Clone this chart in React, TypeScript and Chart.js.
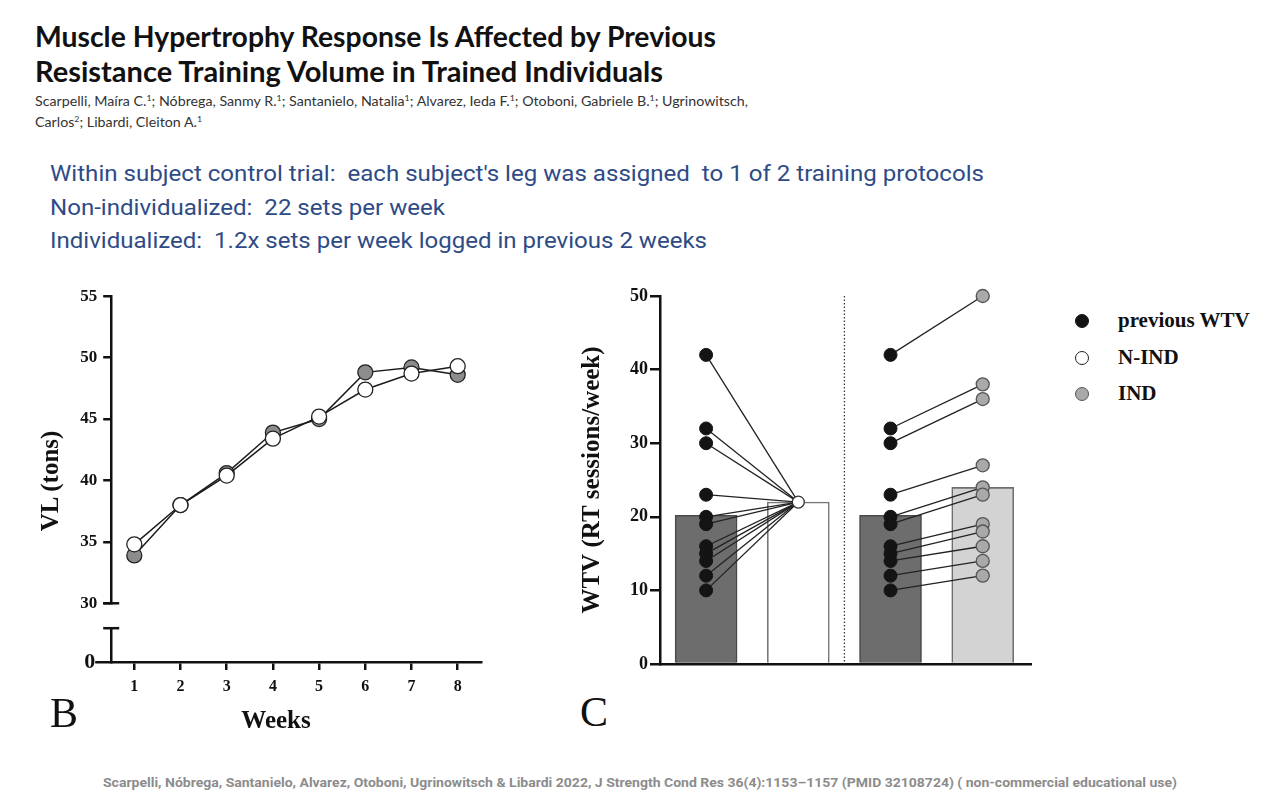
import React, { useEffect, useLayoutEffect, useRef } from 'react';
import { Chart, registerables } from 'chart.js';

Chart.register(...registerables);

const INK = '#111111';
const SERIF = '"Liberation Serif", "DejaVu Serif", serif';
const LATO = 'Lato, "Noto Sans", sans-serif';
const ROBOTO = 'Roboto, "Noto Sans", sans-serif';

// Panel B: weekly volume load (tons) for each protocol
const weeks = ['1', '2', '3', '4', '5', '6', '7', '8'];
const vlIndividualized = [33.9, 38.0, 40.6, 43.9, 45.0, 48.8, 49.2, 48.6];
const vlNonIndividualized = [34.8, 38.0, 40.4, 43.4, 45.2, 47.4, 48.7, 49.3];
const vlAxisMin = 30;
const vlAxisMax = 55;
const vlAxisStep = 5;

// Panel C: weekly training volume (sets/week)
const barPositions = [1, 2, 3, 4];
const barMeans = [20.2, 22, 20.2, 24];
const previousWTV = [42, 32, 30, 23, 20, 19, 16, 15, 14, 12, 10];
const nIndWTV = 22;
const indWTV = [50, 38, 36, 27, 24, 23, 19, 18, 16, 14, 12];
const wtvAxisMax = 50;
const wtvAxisStep = 10;

const legendItems = [
  { label: 'previous WTV', fill: '#141414', stroke: '#141414' },
  { label: 'N-IND', fill: '#ffffff', stroke: '#222222' },
  { label: 'IND', fill: '#a9a9a9', stroke: '#555555' },
];

const METRICS: Record<string, [number, number]> = {
  lato: [0.987, 0.213],
  roboto: [0.928, 0.244],
  serif: [0.891, 0.216],
};

type TextProps = {
  x: number;
  baseline: number;
  size: number;
  face: 'lato' | 'roboto' | 'serif';
  width?: number;
  lineHeight?: number;
  color?: string;
  weight?: number | string;
  children: React.ReactNode;
};

// Absolutely placed text block, positioned by the baseline of its first
// line and optionally squeezed horizontally to a given width.
function TextLine({ x, baseline, size, face, width, lineHeight, color = INK, weight = 400, children }: TextProps) {
  const ref = useRef<HTMLDivElement>(null);
  const family = face === 'lato' ? LATO : face === 'roboto' ? ROBOTO : SERIF;
  const [asc, desc] = METRICS[face];
  const lh = lineHeight ?? Math.round(size * 1.3);
  const top = baseline - ((lh - (asc + desc) * size) / 2 + asc * size);

  useLayoutEffect(() => {
    const fit = () => {
      const el = ref.current;
      if (!el || !width) return;
      el.style.transform = 'none';
      const w = el.getBoundingClientRect().width;
      if (w > 0) el.style.transform = `scaleX(${width / w})`;
    };
    fit();
    if ((document as any).fonts) (document as any).fonts.ready.then(fit);
  }, [width]);

  return (
    <div
      ref={ref}
      style={{
        position: 'absolute',
        left: x,
        top,
        fontFamily: family,
        fontSize: size,
        fontWeight: weight as any,
        lineHeight: `${lh}px`,
        color,
        whiteSpace: 'pre',
        transformOrigin: 'left center',
      }}
    >
      {children}
    </div>
  );
}

function Sup({ children }: { children: React.ReactNode }) {
  return <span style={{ fontSize: '0.62em', verticalAlign: 'super', lineHeight: 0 }}>{children}</span>;
}

// Short cap across the axis where the value range is broken
const axisBreakCap = (edge: 'min' | 'max') => ({
  id: 'axisBreakCap',
  afterDraw(chart: any) {
    const y = chart.scales.y;
    const px = chart.chartArea.left;
    const py = y.getPixelForValue(edge === 'min' ? y.min : y.max);
    const c = chart.ctx;
    c.save();
    c.strokeStyle = INK;
    c.lineWidth = 2.5;
    c.beginPath();
    c.moveTo(px - 8, py);
    c.lineTo(px + 8, py);
    c.stroke();
    c.restore();
  },
});

// Dotted divider between the two comparisons
const groupDivider = {
  id: 'groupDivider',
  beforeDatasetsDraw(chart: any) {
    const x = chart.scales.x.getPixelForValue((barPositions[1] + barPositions[2]) / 2);
    const { top, bottom } = chart.chartArea;
    const c = chart.ctx;
    c.save();
    c.strokeStyle = '#3a3a3a';
    c.lineWidth = 1.3;
    c.setLineDash([1.5, 2]);
    c.beginPath();
    c.moveTo(x, top);
    c.lineTo(x, bottom);
    c.stroke();
    c.restore();
  },
};

const tickFont = (size: number) => ({ family: SERIF, weight: 'bold' as const, size });

function VolumeLoadPanel() {
  const topRef = useRef<HTMLCanvasElement>(null);
  const baseRef = useRef<HTMLCanvasElement>(null);

  useEffect(() => {
    const series = (label: string, data: number[], fill: string, order: number) => ({
      label,
      data,
      order,
      borderColor: '#1b1b1b',
      borderWidth: 1.5,
      pointRadius: 7.5,
      pointBackgroundColor: fill,
      pointBorderColor: '#222222',
      pointBorderWidth: 1.3,
      clip: false as const,
    });

    const upper = new Chart(topRef.current!, {
      type: 'line',
      data: {
        labels: weeks,
        datasets: [
          series('N-IND', vlNonIndividualized, '#ffffff', 1),
          series('IND', vlIndividualized, '#8c8c8c', 2),
        ],
      },
      options: {
        responsive: false,
        animation: false,
        layout: { padding: { top: 12.7, right: 19.2, bottom: 16.7, left: 0 } },
        plugins: { legend: { display: false }, tooltip: { enabled: false } },
        scales: {
          x: { type: 'category', offset: true, display: false },
          y: {
            min: vlAxisMin,
            max: vlAxisMax,
            afterFit: (s: any) => {
              s.width = 91.2;
            },
            ticks: { stepSize: vlAxisStep, padding: 6, color: INK, font: tickFont(17) },
            grid: { drawOnChartArea: false, drawTicks: true, tickLength: 8, color: INK, lineWidth: 2.5 },
            border: { display: true, color: INK, width: 2.5 },
          },
        },
      },
      plugins: [axisBreakCap('min')],
    } as any);

    const lower = new Chart(baseRef.current!, {
      type: 'line',
      data: { labels: weeks, datasets: [] },
      options: {
        responsive: false,
        animation: false,
        layout: { padding: { top: 13, right: 19.2, bottom: 0, left: 0 } },
        plugins: { legend: { display: false }, tooltip: { enabled: false } },
        scales: {
          x: {
            type: 'category',
            offset: true,
            afterFit: (s: any) => {
              s.height = 78;
            },
            ticks: { padding: 7, color: INK, font: tickFont(16), maxRotation: 0 },
            grid: { drawOnChartArea: false, drawTicks: true, tickLength: 8, color: INK, lineWidth: 2.5 },
            border: { display: true, color: INK, width: 2.5 },
          },
          y: {
            min: 0,
            max: 1,
            afterFit: (s: any) => {
              s.width = 91.2;
            },
            ticks: {
              stepSize: 1,
              padding: 0,
              color: INK,
              font: tickFont(22),
              callback: (v: any) => (v === 0 ? '0' : ''),
            },
            grid: {
              drawOnChartArea: false,
              drawTicks: true,
              tickLength: 16,
              lineWidth: 2.5,
              color: (ctx: any) => (ctx.tick && ctx.tick.value === 0 ? INK : 'rgba(0,0,0,0)'),
            },
            border: { display: true, color: INK, width: 2.5 },
          },
        },
      },
      plugins: [axisBreakCap('max')],
    } as any);

    return () => {
      upper.destroy();
      lower.destroy();
    };
  }, []);

  return (
    <>
      <canvas ref={topRef} width={480} height={340} style={{ position: 'absolute', left: 20, top: 280 }} />
      <canvas ref={baseRef} width={480} height={125} style={{ position: 'absolute', left: 20, top: 615 }} />
      <div
        style={{
          position: 'absolute',
          left: 50 - 100,
          top: 481 - 15,
          width: 200,
          height: 30,
          lineHeight: '30px',
          textAlign: 'center',
          fontFamily: SERIF,
          fontWeight: 700,
          fontSize: 25,
          color: INK,
          transform: 'rotate(-90deg)',
        }}
      >
        VL (tons)
      </div>
      <div
        style={{
          position: 'absolute',
          left: 276 - 100,
          top: 720 - 15,
          width: 200,
          height: 30,
          lineHeight: '30px',
          textAlign: 'center',
          fontFamily: SERIF,
          fontWeight: 700,
          fontSize: 25,
          color: INK,
        }}
      >
        Weeks
      </div>
      <TextLine x={50} baseline={728} size={42} face="serif">
        B
      </TextLine>
    </>
  );
}

function TrainingVolumePanel() {
  const ref = useRef<HTMLCanvasElement>(null);

  useEffect(() => {
    const pairLine = (x0: number, y0: number, x1: number, y1: number) => ({
      type: 'line',
      data: [
        { x: x0, y: y0 },
        { x: x1, y: y1 },
      ],
      borderColor: '#222222',
      borderWidth: 1.3,
      pointRadius: 0,
      order: 5,
      clip: false,
    });

    const chart = new Chart(ref.current!, {
      type: 'bar',
      data: {
        datasets: [
          {
            type: 'bar',
            label: 'mean',
            data: barPositions.map((x, i) => ({ x, y: barMeans[i] })),
            backgroundColor: ['#6d6d6d', '#ffffff', '#6d6d6d', '#d3d3d3'],
            borderColor: ['#4a4a4a', '#777777', '#4a4a4a', '#6f6f6f'],
            borderWidth: 1.6,
            barThickness: 62,
            order: 10,
          },
          ...previousWTV.map((v) => pairLine(barPositions[0], v, barPositions[1], nIndWTV)),
          ...previousWTV.map((v, i) => pairLine(barPositions[2], v, barPositions[3], indWTV[i])),
          {
            type: 'line',
            label: 'previous WTV',
            data: [
              ...previousWTV.map((v) => ({ x: barPositions[0], y: v })),
              ...previousWTV.map((v) => ({ x: barPositions[2], y: v })),
            ],
            showLine: false,
            pointRadius: 6.5,
            pointBackgroundColor: '#141414',
            pointBorderColor: '#141414',
            pointBorderWidth: 1,
            order: 2,
            clip: false,
          },
          {
            type: 'line',
            label: 'N-IND',
            data: [{ x: barPositions[1], y: nIndWTV }],
            showLine: false,
            pointRadius: 6,
            pointBackgroundColor: '#ffffff',
            pointBorderColor: '#333333',
            pointBorderWidth: 1.3,
            order: 1,
            clip: false,
          },
          {
            type: 'line',
            label: 'IND',
            data: indWTV.map((v) => ({ x: barPositions[3], y: v })),
            showLine: false,
            pointRadius: 6.5,
            pointBackgroundColor: '#a9a9a9',
            pointBorderColor: '#555555',
            pointBorderWidth: 1.3,
            order: 1,
            clip: false,
          },
        ],
      },
      options: {
        responsive: false,
        animation: false,
        layout: { padding: { top: 16, right: 18.4, bottom: 16, left: 0 } },
        plugins: { legend: { display: false }, tooltip: { enabled: false } },
        scales: {
          x: {
            type: 'linear',
            min: 0.5,
            max: 4.53,
            offset: false,
            afterFit: (s: any) => {
              s.height = 0;
            },
            ticks: { display: false },
            grid: { display: false },
            border: { display: true, color: INK, width: 2.5 },
          },
          y: {
            min: 0,
            max: wtvAxisMax,
            afterFit: (s: any) => {
              s.width = 90;
            },
            ticks: { stepSize: wtvAxisStep, padding: 2, color: INK, font: tickFont(18) },
            grid: { drawOnChartArea: false, drawTicks: true, tickLength: 10, color: INK, lineWidth: 2.5 },
            border: { display: true, color: INK, width: 2.5 },
            title: {
              display: true,
              text: 'WTV (RT sessions/week)',
              color: INK,
              font: { family: SERIF, weight: 'bold', size: 25 },
              padding: { top: 8, bottom: 0 },
            },
          },
        },
      },
      plugins: [groupDivider],
    } as any);

    return () => chart.destroy();
  }, []);

  return (
    <>
      <canvas ref={ref} width={480} height={400} style={{ position: 'absolute', left: 570, top: 280 }} />
      {legendItems.map((item, i) => (
        <React.Fragment key={item.label}>
          <div
            style={{
              position: 'absolute',
              left: 1082 - 7,
              top: 321 + i * 36.5 - 7,
              width: 14,
              height: 14,
              boxSizing: 'border-box',
              borderRadius: '50%',
              background: item.fill,
              border: `1.4px solid ${item.stroke}`,
            }}
          />
          <TextLine x={1118} baseline={328 + i * 36.5} size={21} face="serif" weight={700}>
            {item.label}
          </TextLine>
        </React.Fragment>
      ))}
      <TextLine x={580} baseline={727} size={42} face="serif">
        C
      </TextLine>
    </>
  );
}

export default function App() {
  return (
    <div
      style={{
        position: 'absolute',
        left: 0,
        top: 0,
        width: 1280,
        height: 800,
        background: '#ffffff',
        overflow: 'hidden',
      }}
    >
      <TextLine x={35} baseline={47} size={28} face="lato" weight={700} width={681}>
        Muscle Hypertrophy Response Is Affected by Previous
      </TextLine>
      <TextLine x={35} baseline={82} size={28} face="lato" weight={700} width={628}>
        Resistance Training Volume in Trained Individuals
      </TextLine>
      <TextLine x={35} baseline={107} size={13.5} face="lato" color="#333333" width={713} lineHeight={21}>
        Scarpelli, Maíra C.<Sup>1</Sup>; Nóbrega, Sanmy R.<Sup>1</Sup>; Santanielo, Natalia<Sup>1</Sup>; Alvarez, Ieda F.
        <Sup>1</Sup>; Otoboni, Gabriele B.<Sup>1</Sup>; Ugrinowitsch,
        {'\n'}Carlos<Sup>2</Sup>; Libardi, Cleiton A.<Sup>1</Sup>
      </TextLine>

      <TextLine x={50} baseline={181.5} size={22} face="roboto" color="#2e4b86" width={934}>
        {"Within subject control trial:  each subject's leg was assigned  to 1 of 2 training protocols"}
      </TextLine>
      <TextLine x={50} baseline={215.5} size={22} face="roboto" color="#2e4b86" width={395}>
        {'Non-individualized:  22 sets per week'}
      </TextLine>
      <TextLine x={50} baseline={248.5} size={22} face="roboto" color="#2e4b86" width={657}>
        {'Individualized:  1.2x sets per week logged in previous 2 weeks'}
      </TextLine>

      <VolumeLoadPanel />
      <TrainingVolumePanel />

      <TextLine x={103} baseline={787} size={13} face="roboto" weight={700} color="#8c8c8c" width={1074}>
        {
          'Scarpelli, Nóbrega, Santanielo, Alvarez, Otoboni, Ugrinowitsch & Libardi 2022, J Strength Cond Res 36(4):1153\u20131157 (PMID 32108724) ( non-commercial educational use)'
        }
      </TextLine>
    </div>
  );
}
